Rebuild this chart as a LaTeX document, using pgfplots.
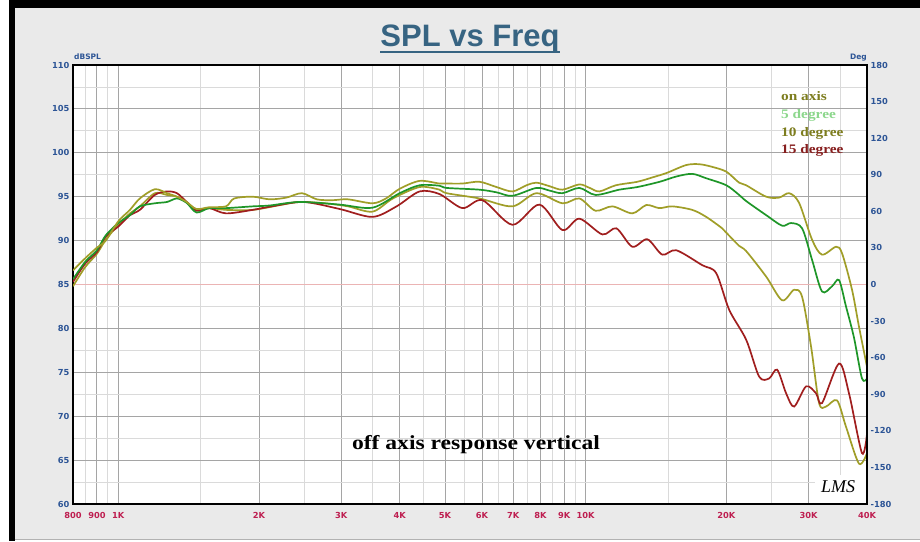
\documentclass[border=0pt]{standalone}
\usepackage{fontspec}
\setmainfont{Liberation Sans}
\newfontfamily\tickfont{DejaVu Sans}
\newfontfamily\legfont[FakeStretch=1.18]{Liberation Serif}
\newfontfamily\lmsfont{Liberation Serif}
\usepackage{pgfplots}
\pgfplotsset{compat=1.18}
\definecolor{panel}{RGB}{234,234,234}
\definecolor{tickred}{RGB}{190,30,80}
\definecolor{tickblue}{RGB}{45,85,150}
\definecolor{titleblue}{RGB}{55,100,130}
\definecolor{oaline}{RGB}{160,158,40}
\definecolor{gline}{RGB}{30,150,40}
\definecolor{rline}{RGB}{160,30,30}
\definecolor{legolive}{RGB}{125,125,30}
\definecolor{leggreen}{RGB}{140,215,140}
\definecolor{legred}{RGB}{135,30,30}
\definecolor{gmaj}{RGB}{165,165,165}
\definecolor{gmin}{RGB}{218,218,218}
\definecolor{pinkline}{RGB}{235,180,180}

\pgfplotstableread{
f db
800 86.6
850 88.0
900 89.2
940 90.0
1000 92.2
1059 93.5
1112 94.8
1197 95.85
1271 95.4
1335 95.0
1400 94.4
1470 93.6
1565 93.8
1700 93.9
1770 94.8
1940 95.0
2109 94.7
2290 94.9
2470 95.4
2660 94.7
2870 94.6
3100 94.7
3500 94.25
3740 94.8
4000 95.9
4412 96.8
4867 96.5
5040 96.5
5450 96.5
5927 96.7
6445 96.1
6971 95.6
7470 96.3
7846 96.6
8365 96.2
8918 95.8
9694 96.4
10200 96.0
10700 95.6
11600 96.3
12900 96.7
13900 97.2
14900 97.7
16400 98.6
17500 98.7
18650 98.4
20000 97.85
21300 96.6
22056 96.3
24336 95.0
25944 94.9
27251 95.4
28622 94.3
30514 90.1
32051 88.4
34340 89.3
35370 88.55
37154 84.4
38452 80.2
40000 75.6
}\onaxis

\pgfplotstableread{
f db
800 85.6
850 87.6
900 88.9
940 90.6
1000 92.0
1059 92.9
1112 93.9
1197 94.25
1271 94.4
1335 94.8
1400 94.3
1470 93.2
1565 93.7
1700 93.7
1940 93.9
2109 94.0
2444 94.4
2976 94.1
3500 93.75
4000 95.4
4412 96.3
4867 96.25
5040 96.0
5927 95.8
6445 95.5
6971 95.1
7846 96.0
8365 95.7
8918 95.4
9694 96.0
10500 95.2
11800 95.8
12900 96.1
14400 96.7
15630 97.3
16904 97.6
18113 97.1
20000 96.3
21300 95.2
22056 94.5
24336 92.9
26327 91.7
27520 92.0
29049 91.4
30514 87.8
32051 84.2
33670 84.8
34853 85.5
36068 82.5
37500 79.0
39024 74.3
40000 74.3
}\fivedeg

\pgfplotstableread{
f db
800 84.8
850 87.0
900 88.5
940 90.1
1000 91.8
1059 93.1
1112 93.9
1197 95.4
1271 95.2
1335 95.0
1400 94.4
1470 93.5
1565 93.7
1700 93.5
1940 93.5
2220 94.05
2444 94.4
2770 94.25
3100 93.9
3500 93.3
3870 94.8
4412 96.1
4867 95.8
5040 95.4
5927 94.8
6971 93.9
7846 95.4
8918 94.25
9694 94.8
10500 93.4
11408 93.9
12585 93.1
13481 94.05
14375 93.7
15322 93.9
16904 93.5
18113 92.7
19594 91.4
20000 90.9
21300 89.4
22056 88.8
24336 85.9
26327 83.2
27929 84.4
29049 83.6
30366 77.9
31585 71.5
32687 71.1
34510 71.8
36068 68.8
38452 64.6
40000 65.8
}\tendeg

\pgfplotstableread{
f db
800 85.3
850 87.4
900 88.7
940 90.45
1000 91.6
1059 92.9
1112 93.5
1197 95.2
1271 95.6
1335 95.4
1400 94.4
1470 93.4
1565 93.7
1700 93.1
1940 93.5
2130 93.9
2490 94.4
2976 93.6
3500 92.7
3940 93.9
4412 95.6
4867 95.3
5450 93.7
6016 94.6
6971 91.8
7963 94.1
8918 91.2
9694 92.5
10858 90.7
11633 91.4
12585 89.3
13553 90.15
14587 88.4
15630 88.9
17762 87.2
19024 86.3
20290 82.1
22056 78.7
23512 74.5
24694 74.3
25688 75.3
26853 72.6
27929 71.1
29631 73.4
31120 72.6
32051 71.5
34853 76.0
36607 72.6
39024 65.8
40000 68.0
}\fifteendeg

\begin{document}
\begin{tikzpicture}
\fill[white] (0pt,0pt) rectangle (920pt,541pt);
\fill[panel] (15pt,2pt) rectangle (920pt,533pt);
\draw[gray!60, line width=1pt] (15pt,2pt) -- (920pt,2pt);
\fill[black] (9pt,533pt) rectangle (920pt,541pt);
\fill[black] (9pt,0pt) rectangle (15pt,541pt);

\begin{axis}[
  at={(73pt,37pt)}, anchor=south west,
  scale only axis, width=794pt, height=439pt,
  xmode=log, xmin=800, xmax=40000, ymin=60, ymax=110,
  axis background/.style={fill=white},
  xtick={800,900,1000,2000,3000,4000,5000,6000,7000,8000,9000,10000,20000,30000,40000},
  xticklabels={800,900,1K,2K,3K,4K,5K,6K,7K,8K,9K,10K,20K,30K,40K},
  minor xtick={850,950,1500,2500,3500,4500,5500,6500,7500,8500,9500,15000,25000,35000},
  ytick={60,65,...,110},
  minor ytick={62.5,67.5,...,107.5},
  grid=both,
  major grid style={draw=gmaj, line width=0.9pt},
  minor grid style={draw=gmin, line width=0.8pt},
  major tick length=0pt, minor tick length=0pt,
  axis line style={line width=1.5pt, black},
  /pgf/number format/assume math mode=true,
  xticklabel style={font=\tickfont\bfseries\fontsize{8.3}{9}\selectfont, text=tickred, yshift=-4.5pt},
  yticklabel style={font=\tickfont\bfseries\fontsize{8.3}{9}\selectfont, text=tickblue},
]
\addplot[pinkline, line width=1pt] coordinates {(800,85) (40000,85)};
\addplot[oaline, line width=1.7pt, smooth] table[x=f,y=db] {\tendeg};
\addplot[rline, line width=1.7pt, smooth] table[x=f,y=db] {\fifteendeg};
\addplot[gline, line width=1.7pt, smooth] table[x=f,y=db] {\fivedeg};
\addplot[oaline, line width=1.7pt, smooth] table[x=f,y=db] {\onaxis};
\end{axis}

\begin{axis}[
  at={(73pt,37pt)}, anchor=south west,
  scale only axis, width=794pt, height=439pt,
  xmode=log, xmin=800, xmax=40000, ymin=-180, ymax=180,
  hide x axis, axis y line*=right,
  ytick={-180,-150,...,180},
  major tick length=0pt,
  axis line style={line width=1.5pt, black},
  /pgf/number format/assume math mode=true,
  yticklabel style={font=\tickfont\bfseries\fontsize{8.3}{9}\selectfont, text=tickblue},
]
\addplot[draw=none] coordinates {(1000,0)};
\end{axis}

% LMS logo
\fill[white] (815pt,38pt) rectangle (866pt,66pt);
\node[font=\lmsfont\itshape\fontsize{18}{18}\selectfont] at (838pt,54pt) {LMS};

% labels
\node[anchor=base west, inner sep=0pt, font=\tickfont\bfseries\fontsize{7.5}{8}\selectfont, text=tickblue] at (74pt,481pt) {dBSPL};
\node[anchor=base east, inner sep=0pt, font=\tickfont\bfseries\fontsize{7.5}{8}\selectfont, text=tickblue] at (867pt,481pt) {Deg};

% title
\node[anchor=base, inner sep=0pt, font=\bfseries\fontsize{31}{31}\selectfont, text=titleblue] (T) at (470pt,494pt) {SPL vs Freq};
\draw[titleblue, line width=2.4pt] ([yshift=-5pt]T.base west) -- ([yshift=-5pt]T.base east);

% legend
\node[anchor=base west, inner sep=0pt, font=\legfont\bfseries\fontsize{13}{13}\selectfont, text=legolive] at (781pt,440pt) {on axis};
\node[anchor=base west, inner sep=0pt, font=\legfont\bfseries\fontsize{13}{13}\selectfont, text=leggreen] at (781pt,422pt) {5 degree};
\node[anchor=base west, inner sep=0pt, font=\legfont\bfseries\fontsize{13}{13}\selectfont, text=legolive] at (781pt,404pt) {10 degree};
\node[anchor=base west, inner sep=0pt, font=\legfont\bfseries\fontsize{13}{13}\selectfont, text=legred] at (781pt,387pt) {15 degree};

\node[anchor=base, inner sep=0pt, font=\legfont\bfseries\fontsize{20}{20}\selectfont] at (476pt,92pt) {off axis response vertical};

\pgfresetboundingbox
\path[use as bounding box] (0pt,0pt) rectangle (920pt,541pt);
\end{tikzpicture}
\end{document}
